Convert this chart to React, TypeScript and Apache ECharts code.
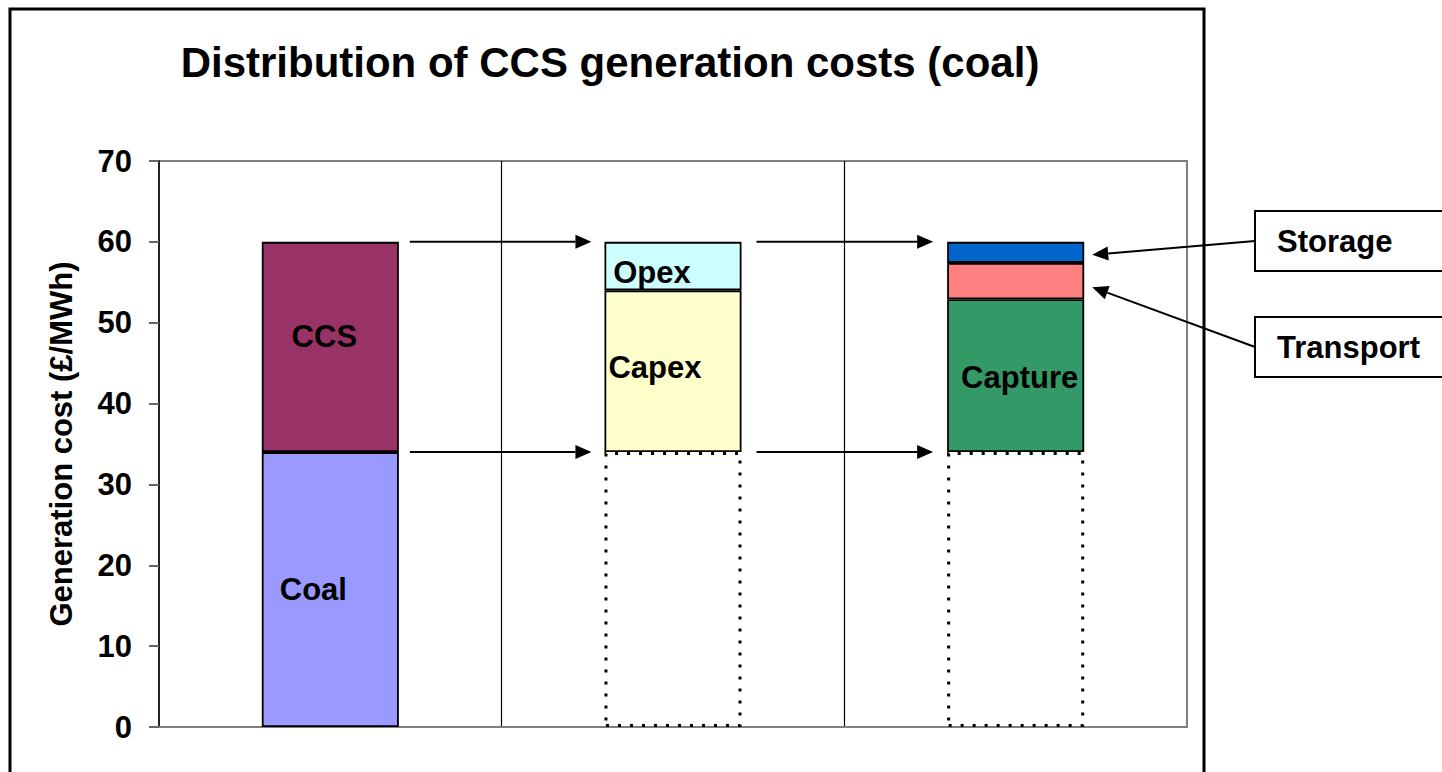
import React, { useEffect, useRef } from "react";
import * as echarts from "echarts";

const FONT = "'Liberation Sans', Arial, sans-serif";

const categories = ["Plant", "Cost type", "CCS chain"];
const yTicks = { min: 0, max: 70, interval: 10 };

// stacked layers, bottom to top
const baseValues = [34, 34, 34];
const baseNames = ["Coal", "", ""];
const layer2Values = [26, 20, 18.9];
const layer2Names = ["CCS", "Capex", "Capture"];
const layer3Values: (number | null)[] = [null, 6, 4.5];
const layer3Names = ["", "Opex", "Transport"];
const layer4Values: (number | null)[] = [null, null, 2.6];
const layer4Names = ["", "", "Storage"];

const baseColors = ["#9999FF", "none", "none"];
const layer2Colors = ["#993366", "#FFFFCC", "#339966"];
const layer3Colors = ["none", "#CCFFFF", "#FF8080"];
const layer4Colors = ["none", "none", "#0066CC"];

// label offsets (manual placement as in the original)
const baseOffsets = [[-17, 0], [0, 0], [0, 0]];
const layer2Offsets = [[-6, -10], [-18, -4], [4, 2]];
const layer3Offsets = [[0, 0], [-21, 6], [0, 0]];

const calloutNames = ["Storage", "Transport"];
const calloutTargets = [58.4, 54.4];

const labelStyle = {
  color: "#000",
  fontFamily: FONT,
  fontWeight: "bold" as const,
  fontSize: 31,
};

function makeData(values: (number | null)[], names: string[], colors: string[], offsets: number[][] | null, dottedIdx: number[] = [], inBarLabel = true) {
  return values.map((v, i) => {
    if (v === null) return { value: "-" };
    const dotted = dottedIdx.includes(i);
    return {
      value: v,
      name: names[i],
      itemStyle: dotted
        ? { color: "rgba(0,0,0,0)", borderColor: "#000", borderWidth: 3, borderType: [3, 9] }
        : { color: colors[i], borderColor: "#000", borderWidth: 1.8 },
      label: {
        show: inBarLabel && !!names[i] && !dotted,
        position: "inside",
        formatter: names[i],
        offset: offsets ? offsets[i] : [0, 0],
        ...labelStyle,
      },
    };
  });
}

export default function App() {
  const ref = useRef<HTMLDivElement>(null);
  useEffect(() => {
    if (!ref.current) return;
    const chart = echarts.init(ref.current, null, { renderer: "svg" });
    const barFrac = 0.4;
    const option: any = {
      animation: false,
      backgroundColor: "#fff",
      grid: {
        left: 159,
        right: 255,
        top: 161,
        bottom: 45,
        show: true,
        borderColor: "#808080",
        borderWidth: 2,
        backgroundColor: "transparent",
      },
      xAxis: {
        type: "category",
        data: categories,
        axisLine: { show: true, lineStyle: { color: "#808080", width: 2 } },
        axisTick: { show: false },
        axisLabel: { show: false },
        splitLine: { show: true, showMinLine: false, showMaxLine: false, lineStyle: { color: "#000", width: 1.2 } },
      },
      yAxis: {
        type: "value",
        min: yTicks.min,
        max: yTicks.max,
        interval: yTicks.interval,
        name: "Generation cost (£/MWh)",
        nameLocation: "middle",
        nameGap: 82,
        nameRotate: 90,
        nameTextStyle: { ...labelStyle },
        axisLine: { show: true, lineStyle: { color: "#222", width: 2 } },
        axisTick: { show: true, length: 10, lineStyle: { color: "#666", width: 2 } },
        axisLabel: { margin: 27, ...labelStyle },
        splitLine: { show: false },
      },
      series: [
        {
          type: "bar",
          stack: "s",
          barWidth: `${barFrac * 100}%`,
          data: makeData(baseValues, baseNames, baseColors, baseOffsets, [1, 2]),
        },
        {
          type: "bar",
          stack: "s",
          data: makeData(layer2Values, layer2Names, layer2Colors, layer2Offsets),
        },
        {
          type: "bar",
          stack: "s",
          data: makeData(layer3Values, layer3Names, layer3Colors, layer3Offsets, [], true).map((d: any, i) =>
            i === 2 && d.label ? { ...d, label: { ...d.label, show: false } } : d
          ),
        },
        {
          type: "bar",
          stack: "s",
          data: makeData(layer4Values, layer4Names, layer4Colors, null, [], false),
        },
      ],
    };
    chart.setOption(option);

    const cx = categories.map((c) => chart.convertToPixel({ xAxisIndex: 0 }, c) as number);
    const band = cx[1] - cx[0];
    const half = (band * barFrac) / 2;
    const py = (v: number) => chart.convertToPixel({ yAxisIndex: 0 }, v) as number;

    const arrow = (x1: number, y1: number, x2: number, y2: number) => {
      const dx = x2 - x1;
      const dy = y2 - y1;
      const len = Math.sqrt(dx * dx + dy * dy);
      const ux = dx / len;
      const uy = dy / len;
      const hl = 16;
      const hw = 7;
      const bx = x2 - ux * hl;
      const by = y2 - uy * hl;
      return [
        { type: "line", z: 100, shape: { x1, y1, x2: bx, y2: by }, style: { stroke: "#000", lineWidth: 2 } },
        {
          type: "polygon",
          z: 100,
          shape: { points: [[x2, y2], [bx - uy * hw, by + ux * hw], [bx + uy * hw, by - ux * hw]] },
          style: { fill: "#000" },
        },
      ];
    };

    const graphics: any[] = [];
    // frame
    graphics.push({ type: "rect", z: 100, shape: { x: 10, y: 9, width: 1194, height: 800 }, style: { fill: "none", stroke: "#000", lineWidth: 3 } });
    // title
    graphics.push({
      type: "text",
      z: 100,
      x: 610,
      y: 62,
      style: { text: "Distribution of CCS generation costs (coal)", textAlign: "center", textVerticalAlign: "middle", fill: "#000", font: `bold 42px ${FONT}` },
    });
    // horizontal arrows
    [baseValues[0], baseValues[0] + layer2Values[0]].forEach((v) => {
      const y = py(v);
      graphics.push(...arrow(cx[0] + half + 11, y, cx[1] - half - 13, y));
      graphics.push(...arrow(cx[1] + half + 15, y, cx[2] - half - 14, y));
    });
    // callouts
    const boxTops = [211, 317];
    calloutNames.forEach((name, i) => {
      const top = boxTops[i];
      const h = 60;
      graphics.push({ type: "rect", z: 100, shape: { x: 1255, y: top, width: 220, height: h }, style: { fill: "#fff", stroke: "#000", lineWidth: 2 } });
      graphics.push({
        type: "text",
        z: 101,
        x: 1277,
        y: top + h / 2,
        style: { text: name, textAlign: "left", textVerticalAlign: "middle", fill: "#000", font: `bold 31px ${FONT}` },
      });
      graphics.push(...arrow(1255, top + h / 2, cx[2] + half + 8, py(calloutTargets[i])));
    });
    chart.setOption({ graphic: graphics });

    return () => chart.dispose();
  }, []);
  return <div ref={ref} style={{ position: "fixed", left: 0, top: 0, width: 1442, height: 772 }} />;
}
